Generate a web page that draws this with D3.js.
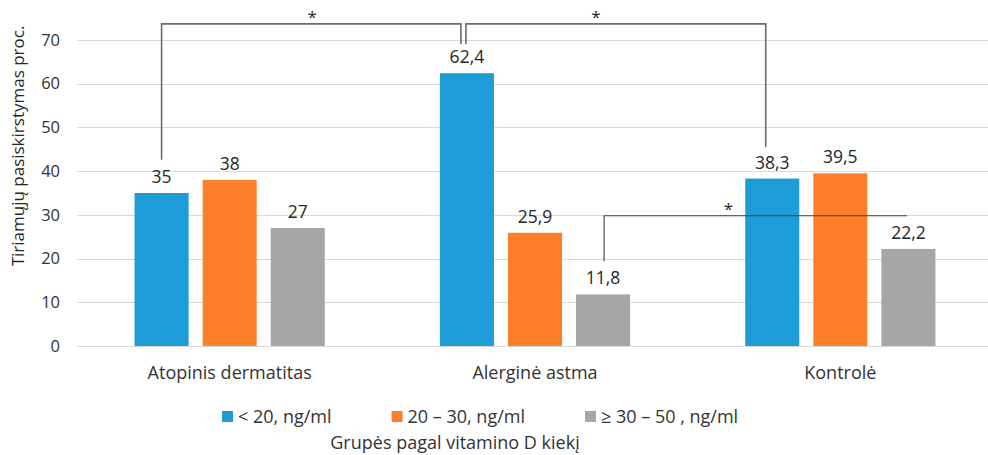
<!DOCTYPE html>
<html>
<head>
<meta charset="utf-8">
<script src="https://cdn.jsdelivr.net/npm/d3@7"></script>
<style>
  body { margin: 0; background: #fff; }
  svg { display: block; font-family: "Open Sans", "Noto Sans", sans-serif; }
</style>
</head>
<body>
<div id="chart-area"></div>
<script>
// data
var groups = ['Atopinis dermatitas', 'Alerginė astma', 'Kontrolė'];
var seriesNames = ['< 20, ng/ml', '20 – 30, ng/ml', '≥ 30 – 50 , ng/ml'];
var seriesColors = ['#1e9cd8', '#fe7f29', '#a6a6a6'];
var lowVals = [35, 62.4, 38.3];
var midVals = [38, 25.9, 39.5];
var highVals = [27, 11.8, 22.2];
var labelText = [['35', '38', '27'], ['62,4', '25,9', '11,8'], ['38,3', '39,5', '22,2']];
var yTicks = [0, 10, 20, 30, 40, 50, 60, 70];

// significance brackets: from/to = [group index, series index]
var brackets = [
	{ from: [0, 0], to: [1, 0], dxFrom: 0, dxTo: -6, top: 73.7, endFrom: 42.6, endTo: 69.1, starDx: 1 },
	{ from: [1, 0], to: [2, 0], dxFrom: -1, dxTo: -6.5, top: 73.7, endFrom: 69.1, endTo: 45.5, starDx: -20 },
	{ from: [1, 2], to: [2, 2], dxFrom: 1, dxTo: -1.5, top: 29.8, endFrom: 19.4, endTo: null, starDx: -27 }
];

var width = 988, height = 455;
var plot = { left: 77, right: 993, top: 40, bottom: 346 };

var svg = d3.select('#chart-area')
	.append('svg')
		.attr('width', width)
		.attr('height', height);

var rows = groups.map(function(g, i) {
	return { group: g, values: [lowVals[i], midVals[i], highVals[i]], labels: labelText[i] };
});

var x0 = d3.scaleBand()
	.domain(groups)
	.range([plot.left, plot.right])
	.paddingInner(0.377)
	.paddingOuter(0.1885);

var x1 = d3.scaleBand()
	.domain([0, 1, 2])
	.range([0, x0.bandwidth()])
	.paddingInner(0.206);

var y = d3.scaleLinear()
	.domain([0, 70])
	.range([plot.bottom, plot.top]);

// gridlines
svg.append('g')
	.selectAll('line')
	.data(yTicks)
	.enter().append('line')
		.attr('x1', plot.left)
		.attr('x2', width)
		.attr('y1', function(d) { return Math.round(y(d)) + 0.5; })
		.attr('y2', function(d) { return Math.round(y(d)) + 0.5; })
		.attr('stroke', '#d9d9d9')
		.attr('stroke-width', 1);

// y axis labels
var yAxis = d3.axisLeft(y).tickValues(yTicks).tickSize(0).tickPadding(0);
var yAxisGroup = svg.append('g')
	.attr('transform', 'translate(60, 0)')
	.call(yAxis);
yAxisGroup.select('.domain').remove();
yAxisGroup.selectAll('text')
	.attr('font-family', '"Open Sans", sans-serif')
	.attr('font-size', '16.5px')
	.attr('fill', '#333');

// x axis labels
var xAxis = d3.axisBottom(x0).tickSize(0).tickPadding(0);
var xAxisGroup = svg.append('g')
	.attr('transform', 'translate(0, 366)')
	.call(xAxis);
xAxisGroup.select('.domain').remove();
xAxisGroup.selectAll('text')
	.attr('font-family', '"Open Sans", sans-serif')
	.attr('font-size', '18px')
	.attr('fill', '#333');

// bars
var groupG = svg.selectAll('.group')
	.data(rows)
	.enter().append('g')
		.attr('class', 'group')
		.attr('transform', function(d) { return 'translate(' + x0(d.group) + ', 0)'; });

groupG.selectAll('rect')
	.data(function(d) { return d.values.map(function(v, i) { return { i: i, v: v }; }); })
	.enter().append('rect')
		.attr('x', function(d) { return x1(d.i); })
		.attr('y', function(d) { return y(d.v); })
		.attr('width', x1.bandwidth())
		.attr('height', function(d) { return y(0) - y(d.v); })
		.attr('fill', function(d) { return seriesColors[d.i]; });

groupG.selectAll('text')
	.data(function(d) { return d.values.map(function(v, i) { return { i: i, v: v, t: d.labels[i] }; }); })
	.enter().append('text')
		.attr('x', function(d) { return x1(d.i) + x1.bandwidth() / 2; })
		.attr('y', function(d) { return y(d.v) - 10; })
		.attr('text-anchor', 'middle')
		.attr('font-size', '17.5px')
		.attr('fill', '#262626')
		.text(function(d) { return d.t; });

// brackets
function barCenter(ref) {
	return x0(groups[ref[0]]) + x1(ref[1]) + x1.bandwidth() / 2;
}

brackets.forEach(function(b, i) {
	var xa = barCenter(b.from) + b.dxFrom;
	var xb = barCenter(b.to) + b.dxTo;
	var pts = [[xa, y(b.endFrom)], [xa, y(b.top)], [xb, y(b.top)]];
	if (b.endTo !== null) pts.push([xb, y(b.endTo)]);
	svg.append('path')
		.attr('d', d3.line()(pts))
		.attr('fill', 'none')
		.attr('stroke', i < 2 ? '#6b6b6b' : '#404040')
		.attr('stroke-width', i < 2 ? 1.6 : 1.1);
	svg.append('text')
		.attr('x', (xa + xb) / 2 + b.starDx)
		.attr('y', y(b.top) - 1)
		.attr('text-anchor', 'middle')
		.attr('font-size', '17px')
		.attr('fill', '#262626')
		.text('*');
});

// y axis title
svg.append('text')
	.attr('transform', 'translate(24, 146) rotate(-90)')
	.attr('text-anchor', 'middle')
	.attr('font-size', '17px')
	.attr('fill', '#262626')
	.text('Tiriamųjų pasiskirstymas proc.');

// legend
var legend = svg.append('g').attr('transform', 'translate(0, 417)');
var lx = 222;
seriesNames.forEach(function(name, i) {
	var item = legend.append('g').attr('transform', 'translate(' + lx + ', 0)');
	item.append('rect')
		.attr('x', 0)
		.attr('y', -6)
		.attr('width', 11)
		.attr('height', 11)
		.attr('fill', seriesColors[i]);
	var t = item.append('text')
		.attr('x', 16)
		.attr('y', 6)
		.attr('font-size', '18px')
		.attr('fill', '#333')
		.text(name);
	lx += 16 + t.node().getComputedTextLength() + 60;
});

// x axis title
svg.append('text')
	.attr('x', 455)
	.attr('y', 449)
	.attr('text-anchor', 'middle')
	.attr('font-size', '18px')
	.attr('fill', '#333')
	.text('Grupės pagal vitamino D kiekį');
</script>
</body>
</html>
